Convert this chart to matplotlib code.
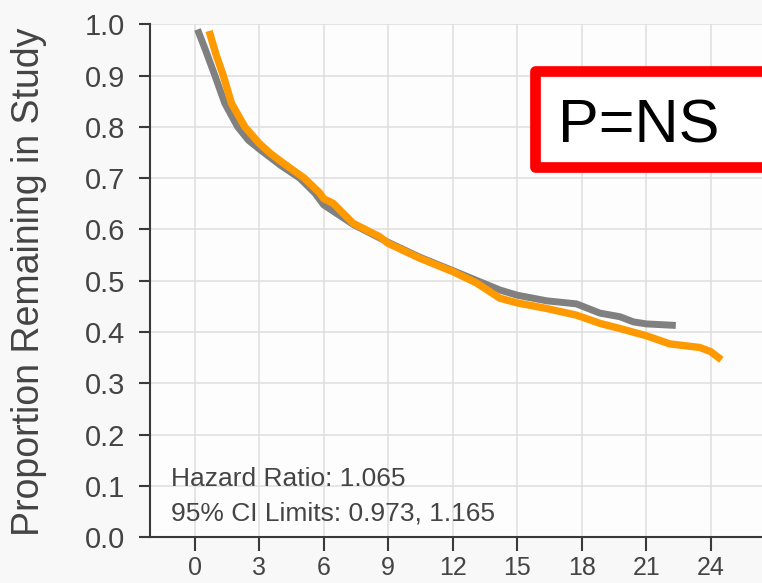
import matplotlib
matplotlib.use("Agg")
import matplotlib.pyplot as plt
from matplotlib.patches import Rectangle

plt.rcParams['font.family'] = ['Liberation Sans', 'DejaVu Sans']

# Kaplan-Meier style retention curves (months vs proportion remaining)
months_grey = [0.13, 0.5, 0.94, 1.4, 2.0, 2.5, 3.0, 4.0, 4.89, 5.59, 6.0, 7.37,
               9.0, 10.47, 12.0, 13.27, 14.2, 15.0, 16.37, 17.76, 18.0, 18.85,
               19.78, 20.4, 21.0, 22.38]
prop_grey = [0.990, 0.950, 0.900, 0.846, 0.800, 0.774, 0.757, 0.725, 0.700, 0.671,
             0.648, 0.610, 0.575, 0.546, 0.520, 0.498, 0.482, 0.472, 0.461, 0.455,
             0.451, 0.437, 0.430, 0.420, 0.416, 0.413]

months_orange = [0.67, 1.0, 1.33, 1.71, 2.33, 3.0, 3.5, 4.0, 5.1, 5.82, 6.0, 6.44,
                 7.37, 8.6, 9.0, 10.47, 12.0, 13.1, 14.2, 15.0, 16.37, 17.76, 18.85,
                 19.78, 21.0, 22.1, 23.5, 24.0, 24.5]
prop_orange = [0.987, 0.940, 0.900, 0.846, 0.800, 0.768, 0.749, 0.733, 0.700, 0.671,
               0.660, 0.651, 0.612, 0.586, 0.573, 0.544, 0.518, 0.496, 0.466, 0.457,
               0.446, 0.433, 0.417, 0.407, 0.393, 0.377, 0.370, 0.362, 0.346]

x_ticks = [0, 3, 6, 9, 12, 15, 18, 21, 24]
y_ticks = [0.0, 0.1, 0.2, 0.3, 0.4, 0.5, 0.6, 0.7, 0.8, 0.9, 1.0]

fig = plt.figure(figsize=(7.62, 5.83), dpi=100, facecolor='#f8f8f8')
ax = fig.add_axes([150 / 762, 45.7 / 583, 612 / 762, 513 / 583])
ax.set_facecolor('#fdfdfd')

ax.plot(months_grey, prop_grey, color='#808080', lw=5, solid_capstyle='butt',
        solid_joinstyle='round')
ax.plot(months_orange, prop_orange, color='#ff9900', lw=5.3, solid_capstyle='butt',
        solid_joinstyle='round')

ax.set_xlim(-2.08, 26.39)
ax.set_ylim(0, 1.0)
ax.set_xticks(x_ticks)
ax.set_yticks(y_ticks)
ax.set_yticklabels([f'{v:.1f}' for v in y_ticks])
ax.grid(True, color='#dedede', lw=1.1)
ax.set_axisbelow(True)

for side in ('top', 'right'):
    ax.spines[side].set_visible(False)
for side in ('left', 'bottom'):
    ax.spines[side].set_color('#3a3a3a')
    ax.spines[side].set_linewidth(1.5)

ax.tick_params(axis='y', length=7.7, width=1.5, color='#3a3a3a', pad=10,
               labelsize=21, labelcolor='#444444')
ax.tick_params(axis='x', length=9.8, width=1.5, color='#3a3a3a', pad=4,
               labelsize=18, labelcolor='#444444')

fig.text(29 / 762, 0.517, 'Proportion Remaining in Study', rotation=90,
         ha='center', va='center', fontsize=27, color='#444444')

ax.text(-1.12, 0.100, 'Hazard Ratio: 1.065', fontsize=19, color='#444444',
        va='baseline', ha='left')
ax.text(-1.12, 0.032, '95% CI Limits: 0.973, 1.165', fontsize=19, color='#444444',
        va='baseline', ha='left')

# red call-out box running off the right edge
box = Rectangle((535.3 / 762, (583 - 166.7) / 583), 0.35, 95.4 / 583,
                transform=fig.transFigure, fill=True, facecolor='white',
                edgecolor='#ff0000', lw=7.7, joinstyle='round', clip_on=False)
fig.patches.append(box)
fig.text(558 / 762, (583 - 142.7) / 583, 'P=NS', fontsize=44, color='black',
         ha='left', va='baseline')

fig.savefig('out.png', dpi=100)
